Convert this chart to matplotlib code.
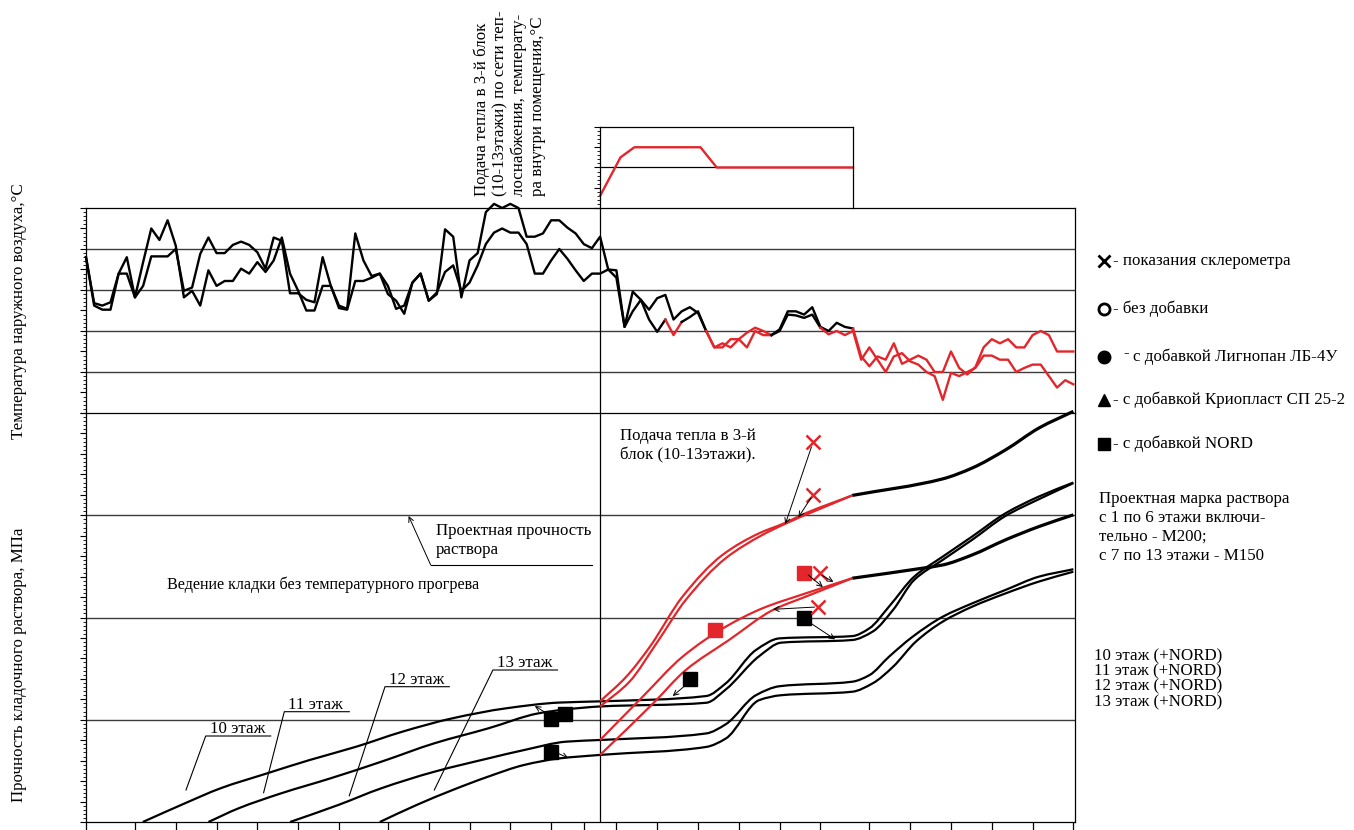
import numpy as np
import matplotlib
matplotlib.use("Agg")
import matplotlib.pyplot as plt
from matplotlib.path import Path
from matplotlib.patches import PathPatch
from matplotlib.ticker import MultipleLocator, FixedLocator

plt.rcParams['font.family'] = ['Liberation Serif', 'DejaVu Serif']

# ---------------- data ----------------
# outdoor air temperature, two daily series (day 0 .. 121), °C
temp_a = [4.0, -1.6, -1.9, -1.5, 2.0, 4.0, -0.9, 3.4, 7.5, 6.1,
          8.5, 5.4, -0.9, -0.1, -1.9, 2.4, 0.5, 1.1, 1.1, 2.6,
          2.0, 3.4, 2.2, 3.6, 6.4, 2.0, -0.1, -2.5, -2.5, 0.5,
          0.5, -1.9, -2.3, 6.9, 3.6, 1.7, 2.0, 0.5, -2.3, -1.9,
          0.9, 2.0, -1.3, -0.5, 7.4, 6.5, -0.9, 3.6, 4.5, 9.5,
          10.5, 10.0, 10.5, 10.0, 6.5, 6.5, 6.9, 8.5, 8.5, 7.6,
          6.9, 5.6, 5.1, 6.5, 2.5, 1.5, -4.5, -0.2, -1.2, -2.4,
          -1.0, -0.6, -3.6, -2.6, -2.1, -2.8, -5.0, -7.0, -6.5, -7.0,
          -6.0, -5.2, -4.6, -5.0, -5.5, -4.8, -2.6, -2.6, -3.0, -2.1,
          -4.5, -5.0, -4.0, -4.5, -4.7, -8.1, -9.3, -8.1, -8.5, -6.5,
          -9.0, -8.5, -8.0, -8.5, -10.0, -10.0, -7.5, -9.5, -10.3, -9.4,
          -7.0, -6.0, -6.5, -6.0, -7.0, -7.0, -5.5, -5.0, -5.5, -7.5,
          -7.5, -7.5]
temp_b = [4.0, -1.9, -2.4, -2.4, 2.0, 2.0, -0.9, 0.5, 4.1, 4.1,
          4.1, 5.0, -0.1, 0.3, 4.4, 6.4, 4.5, 4.5, 5.5, 5.9,
          5.5, 4.6, 2.6, 6.4, 6.0, -0.4, -0.4, -1.2, -1.5, 4.0,
          0.5, -2.2, -2.4, 1.1, 1.1, 1.5, 2.0, -0.5, -1.3, -2.9,
          0.9, 2.0, -1.3, -0.3, 2.2, 3.0, -0.1, 0.9, 3.0, 5.6,
          7.0, 7.5, 7.0, 7.0, 5.6, 2.0, 2.0, 3.6, 5.0, 3.8,
          2.4, 1.1, 2.0, 2.0, 2.5, 2.4, -4.5, -2.6, -1.2, -3.6,
          -5.1, -3.6, -5.5, -3.9, -3.3, -2.6, -5.0, -7.0, -7.0, -6.0,
          -6.0, -7.0, -5.0, -5.5, -5.5, -5.0, -3.0, -3.1, -3.4, -3.0,
          -4.6, -5.4, -5.0, -5.5, -5.0, -8.5, -7.0, -8.5, -10.0, -8.1,
          -7.7, -8.7, -9.1, -10.0, -10.5, -13.4, -10.1, -10.5, -10.0, -9.5,
          -8.0, -8.0, -8.5, -8.5, -10.0, -9.5, -9.1, -9.1, -10.5, -11.9,
          -11.0, -11.5]
temp_days = list(range(len(temp_a)))
# day ranges drawn in red
red_days_a = [(76, 84), (94, 121)]
red_days_b = [(71, 73), (76, 84), (90, 121)]

HEAT_DAY = 63
tick_days = [0, 6, 11, 16, 21, 26, 31, 37, 42, 47, 52, 57, 61, 65, 70,
             75, 80, 85, 90, 96, 101, 106, 111, 116, 121]

# indoor temperature after heat supply, °C
inside_days = [63, 65.5, 67.2, 75.3, 77.3, 94.0]
inside_temp = [3.0, 12.5, 15.0, 15.0, 10.0, 10.0]

# mortar strength, MPa, floors 10..13 without heating
f10_days = [6.96, 12.1, 16.5, 22.2, 27.4, 33.1, 38.8, 44.9, 51.5, 58.0, 63.0,
            76.0, 78.4, 82.1, 85.0, 93.9, 96.0, 98.4, 101.5, 105.0, 108.6,
            112.7, 116.8, 121.0]
f10_mpa = [0.0, 0.91, 1.65, 2.38, 3.03, 3.68, 4.42, 5.07, 5.56, 5.84, 5.90,
           6.16, 6.78, 8.41, 8.98, 9.09, 9.47, 10.53, 12.0, 12.98, 13.96,
           15.10, 15.92, 16.60]
f11_days = [15.0, 18.7, 23.9, 30.0, 36.2, 42.7, 49.3, 55.4, 58.9, 63.0,
            76.0, 78.4, 82.5, 85.2, 93.9, 96.4, 98.9, 101.5, 105.0, 108.6,
            112.7, 116.8, 121.0]
f11_mpa = [0.0, 0.67, 1.40, 2.14, 2.95, 3.85, 4.58, 5.31, 5.51, 5.65,
           5.83, 6.48, 8.11, 8.77, 8.90, 9.31, 10.37, 11.84, 12.82, 13.80,
           14.97, 15.79, 16.57]
f12_days = [25.0, 30.9, 36.2, 42.7, 49.3, 53.7, 58.9, 63.0, 76.0, 78.4,
            82.1, 85.0, 93.9, 96.0, 98.4, 101.3, 105.0, 108.6, 112.7, 116.8,
            121.0]
f12_mpa = [0.0, 0.83, 1.65, 2.46, 3.11, 3.52, 3.93, 4.01, 4.33, 4.78,
           6.20, 6.64, 6.86, 7.18, 8.08, 9.06, 10.04, 10.69, 11.35, 12.0,
           12.36]
f13_days = [36.0, 40.5, 44.9, 49.3, 53.7, 58.0, 63.0, 76.0, 78.4, 82.5,
            85.2, 93.9, 96.4, 98.9, 101.7, 105.0, 108.6, 112.7, 116.8, 121.0]
f13_mpa = [0.0, 0.83, 1.56, 2.22, 2.79, 3.11, 3.28, 3.67, 4.08, 5.96,
           6.20, 6.37, 6.78, 7.59, 8.82, 9.80, 10.53, 11.18, 11.76, 12.24]

# strength with heat supply (red part) and its continuation
h10_days = [63.0, 66.2, 69.1, 73.1, 78.0, 82.5, 85.4, 88.2, 93.9]
h10_mpa = [5.90, 7.10, 8.57, 11.02, 13.06, 14.12, 14.58, 15.10, 15.97]
h11_days = [63.0, 66.6, 69.9, 73.5, 78.4, 82.9, 85.4, 93.9]
h11_mpa = [5.65, 6.86, 8.73, 10.86, 12.90, 14.04, 14.53, 15.97]
h12_days = [63.0, 68.2, 73.1, 78.4, 82.9, 88.2, 93.9]
h12_mpa = [4.01, 6.12, 8.08, 9.55, 10.45, 11.18, 11.92]
h13_days = [63.0, 69.5, 73.5, 78.8, 84.2, 88.2, 93.9]
h13_mpa = [3.28, 5.80, 7.43, 8.90, 10.37, 11.02, 11.92]
c_upper_days = [93.9, 105.0, 108.6, 112.7, 116.8, 121.0]
c_upper_mpa = [15.97, 16.78, 17.31, 18.20, 19.27, 20.08]
c_lower_days = [93.9, 102.5, 105.0, 108.6, 112.7, 116.8, 121.0]
c_lower_mpa = [11.92, 12.41, 12.57, 13.06, 13.80, 14.45, 15.02]

# test points
nord_black_days = [57.0, 58.75, 57.0, 74.0, 88.0]
nord_black_mpa = [5.02, 5.28, 3.44, 6.98, 9.96]
nord_red_days = [77.1, 88.0]
nord_red_mpa = [9.39, 12.19]
sclero_days = [89.1, 89.1, 89.9, 89.7]
sclero_mpa = [18.6, 15.99, 12.16, 10.53]

DESIGN_MPA = 15

# ---------------- layout ----------------
W, H = 1354, 830
RED = '#e3262b'
GRID = '#3c3c3c'
fig = plt.figure(figsize=(W / 100, H / 100), dpi=100)


def box(x0, y0, x1, y1):
    return [x0 / W, 1 - y1 / H, (x1 - x0) / W, (y1 - y0) / H]


DAY_MAX = 121.2
ax_t = fig.add_axes(box(86, 208, 1075, 413))
ax_s = fig.add_axes(box(86, 413, 1075, 822))
ax_in = fig.add_axes(box(600.1, 127, 853, 208))

for ax in (ax_t, ax_s, ax_in):
    ax.patch.set_alpha(0)
    for sp in ax.spines.values():
        sp.set_linewidth(0.9)
        sp.set_color('k')

# temperature panel
ax_t.set_xlim(0, DAY_MAX)
ax_t.set_ylim(-15, 10)
for v in (5, 0, -5, -10):
    ax_t.axhline(v, color=GRID, lw=1.0, zorder=1)
ax_t.axvline(HEAT_DAY, color='k', lw=0.9, zorder=1)
ax_t.tick_params(axis='x', which='both', bottom=False, labelbottom=False)
ax_t.yaxis.set_major_locator(MultipleLocator(2.5))
ax_t.yaxis.set_minor_locator(MultipleLocator(0.5))
ax_t.tick_params(axis='y', which='major', direction='out', length=4, width=0.8,
                 labelleft=False)
ax_t.tick_params(axis='y', which='minor', direction='out', length=2, width=0.6)


def plot_colored(ax, x, y, red_ranges):
    x = np.asarray(x, float)
    y = np.asarray(y, float)
    n = len(x)
    seg_red = np.zeros(n - 1, bool)
    for a, b in red_ranges:
        seg_red |= (x[:-1] >= a) & (x[1:] <= b)
    i = 0
    while i < n - 1:
        j = i
        while j + 1 < n - 1 and seg_red[j + 1] == seg_red[i]:
            j += 1
        ax.plot(x[i:j + 2], y[i:j + 2], color=RED if seg_red[i] else 'k',
                lw=1.7, clip_on=False, zorder=3)
        i = j + 1


plot_colored(ax_t, temp_days, temp_a, red_days_a)
plot_colored(ax_t, temp_days, temp_b, red_days_b)

# inset: indoor temperature
ax_in.set_xlim(HEAT_DAY, 94.0)
ax_in.set_ylim(0, 20)
ax_in.spines['bottom'].set_visible(False)
ax_in.axhline(10, color='k', lw=0.9)
ax_in.tick_params(axis='x', which='both', bottom=False, labelbottom=False)
ax_in.yaxis.set_major_locator(MultipleLocator(5))
ax_in.yaxis.set_minor_locator(MultipleLocator(1))
ax_in.tick_params(axis='y', which='major', direction='out', length=4, width=0.8,
                  labelleft=False)
ax_in.tick_params(axis='y', which='minor', direction='out', length=2, width=0.6)
ax_in.plot(inside_days, inside_temp, color=RED, lw=1.7, clip_on=False)

# strength panel
ax_s.set_xlim(0, DAY_MAX)
ax_s.set_ylim(0, 20)
ax_s.spines['top'].set_visible(False)
for v in (5, 10, DESIGN_MPA):
    ax_s.axhline(v, color=GRID, lw=1.0, zorder=1)
ax_s.axvline(HEAT_DAY, color='k', lw=0.9, zorder=1)
ax_s.xaxis.set_major_locator(FixedLocator(tick_days))
ax_s.tick_params(axis='x', which='major', direction='out', length=8, width=0.9,
                 labelbottom=False)
ax_s.yaxis.set_major_locator(MultipleLocator(1))
ax_s.yaxis.set_minor_locator(MultipleLocator(0.2))
ax_s.tick_params(axis='y', which='major', direction='out', length=4, width=0.8,
                 labelleft=False)
ax_s.tick_params(axis='y', which='minor', direction='out', length=2, width=0.6)


def pchip_slopes(x, y):
    h = np.diff(x)
    d = np.diff(y) / h
    m = np.zeros_like(y)
    m[0], m[-1] = d[0], d[-1]
    for k in range(1, len(x) - 1):
        if d[k - 1] * d[k] <= 0:
            m[k] = 0.0
        else:
            w1 = 2 * h[k] + h[k - 1]
            w2 = h[k] + 2 * h[k - 1]
            m[k] = (w1 + w2) / (w1 / d[k - 1] + w2 / d[k])
    return m


def smooth_curve(ax, x, y, color='k', lw=1.6, z=3):
    x = np.asarray(x, float)
    y = np.asarray(y, float)
    m = pchip_slopes(x, y)
    verts = [(x[0], y[0])]
    codes = [Path.MOVETO]
    for i in range(len(x) - 1):
        h = x[i + 1] - x[i]
        verts += [(x[i] + h / 3, y[i] + m[i] * h / 3),
                  (x[i + 1] - h / 3, y[i + 1] - m[i + 1] * h / 3),
                  (x[i + 1], y[i + 1])]
        codes += [Path.CURVE4] * 3
    ax.add_patch(PathPatch(Path(verts, codes), fill=False, edgecolor=color,
                           lw=lw, clip_on=False, zorder=z,
                           capstyle='butt', joinstyle='round'))


for xs, ys in ((f10_days, f10_mpa), (f11_days, f11_mpa),
               (f12_days, f12_mpa), (f13_days, f13_mpa)):
    smooth_curve(ax_s, xs, ys, 'k', 1.6)
for xs, ys in ((h10_days, h10_mpa), (h11_days, h11_mpa),
               (h12_days, h12_mpa), (h13_days, h13_mpa)):
    smooth_curve(ax_s, xs, ys, RED, 1.6, 4)
smooth_curve(ax_s, c_upper_days, c_upper_mpa, 'k', 2.3)
smooth_curve(ax_s, c_lower_days, c_lower_mpa, 'k', 2.3)

ax_s.plot(nord_black_days, nord_black_mpa, 's', color='k', ms=10, zorder=6)
ax_s.plot(nord_red_days, nord_red_mpa, 's', color=RED, ms=10, zorder=6)
ax_s.plot(sclero_days, sclero_mpa, 'x', color=RED, ms=10, mew=1.8, zorder=6)

arrow_kw = dict(arrowstyle='->', color='k', lw=0.7, shrinkA=0, shrinkB=0,
                mutation_scale=9)
pointers = [((88.9, 18.34), (85.7, 14.57)),
            ((88.85, 15.85), (87.3, 14.9)),
            ((88.5, 12.08), (90.3, 11.49)),
            ((90.2, 12.06), (91.6, 11.74)),
            ((89.3, 10.51), (84.2, 10.40)),
            ((88.4, 9.83), (91.8, 8.93)),
            ((73.8, 6.80), (71.9, 6.16)),
            ((56.4, 5.33), (55.0, 5.67)),
            ((57.5, 3.42), (59.1, 3.13))]
for start, end in pointers:
    ax_s.annotate('', xy=end, xytext=start, arrowprops=arrow_kw, zorder=7)

# ---------------- annotations ----------------
ov = fig.add_axes([0, 0, 1, 1])
ov.set_xlim(0, W)
ov.set_ylim(H, 0)
ov.axis('off')
ov.patch.set_alpha(0)

FS = 12.2
ov.text(19, 311, 'Температура наружного воздуха,°С', rotation=90,
        ha='center', va='center', fontsize=FS)
ov.text(19, 665, 'Прочность кладочного раствора, МПа', rotation=90,
        ha='center', va='center', fontsize=FS)

top_lines = ['Подача тепла в 3-й блок', '(10-13этажи) по сети теп-',
             'лоснабжения, температу-', 'ра внутри помещения,°С']
for xx, s in zip((482, 500.5, 519, 537.5), top_lines):
    ov.text(xx, 196, s, rotation=90, ha='center', va='bottom', fontsize=FS)

# design strength label
ov.annotate('', xy=(408.6, 516), xytext=(430.7, 565),
            arrowprops=dict(arrowstyle='->', color='k', lw=0.7, shrinkA=0,
                            shrinkB=0, mutation_scale=9))
ov.plot([430.7, 592], [565, 565], color='k', lw=0.8)
ov.text(436, 535, 'Проектная прочность', fontsize=FS, va='baseline')
ov.text(436, 554, 'раствора', fontsize=FS, va='baseline')
ov.text(167, 589, 'Ведение кладки без температурного прогрева', fontsize=11.6,
        va='baseline')
ov.text(620, 440, 'Подача тепла в 3-й', fontsize=FS, va='baseline')
ov.text(620, 459, 'блок (10-13этажи).', fontsize=FS, va='baseline')

# floor leaders
floor_labels = [('10 этаж', 205.7, 736, 270.7, 186, 790),
                ('11 этаж', 284.3, 711.7, 349.3, 263.6, 792.7),
                ('12 этаж', 385, 686.7, 449.3, 349.3, 795.7),
                ('13 этаж', 492.9, 670, 557.5, 434.3, 790)]
for s, x0, y0, x1, xl, yl in floor_labels:
    ov.plot([xl, x0, x1], [yl, y0, y0], color='k', lw=0.8)
    ov.text(x0 + 4, y0 - 3, s, fontsize=FS, va='baseline')

# legend on the right
ov.plot(1104, 261, 'x', color='k', ms=8, mew=2)
ov.plot(1104, 309, 'o', mfc='white', mec='k', ms=8, mew=2)
ov.plot(1104, 357, 'o', color='k', ms=9)
ov.plot(1104, 400, '^', color='k', ms=8)
ov.plot(1104, 444, 's', color='k', ms=9)
ov.text(1113, 261, '- показания склерометра', fontsize=FS, va='center')
ov.text(1113, 309, '- без добавки', fontsize=FS, va='center')
ov.text(1123, 353, '-', fontsize=FS, va='center')
ov.text(1133, 357, 'с добавкой Лигнопан ЛБ-4У', fontsize=FS, va='center')
ov.text(1113, 400, '- с добавкой Криопласт СП 25-2', fontsize=FS, va='center')
ov.text(1113, 444, '- с добавкой NORD', fontsize=FS, va='center')

grade_lines = ['Проектная марка раствора', 'с 1 по 6 этажи включи-',
               'тельно - М200;', 'с 7 по 13 этажи - М150']
for k, s in enumerate(grade_lines):
    ov.text(1099, 499 + 19 * k, s, fontsize=FS, va='center')
nord_lines = ['10 этаж (+NORD)', '11 этаж (+NORD)', '12 этаж (+NORD)',
              '13 этаж (+NORD)']
for k, s in enumerate(nord_lines):
    ov.text(1094, 656 + 15.4 * k, s, fontsize=FS, va='center')

fig.savefig('out.png', dpi=100)
